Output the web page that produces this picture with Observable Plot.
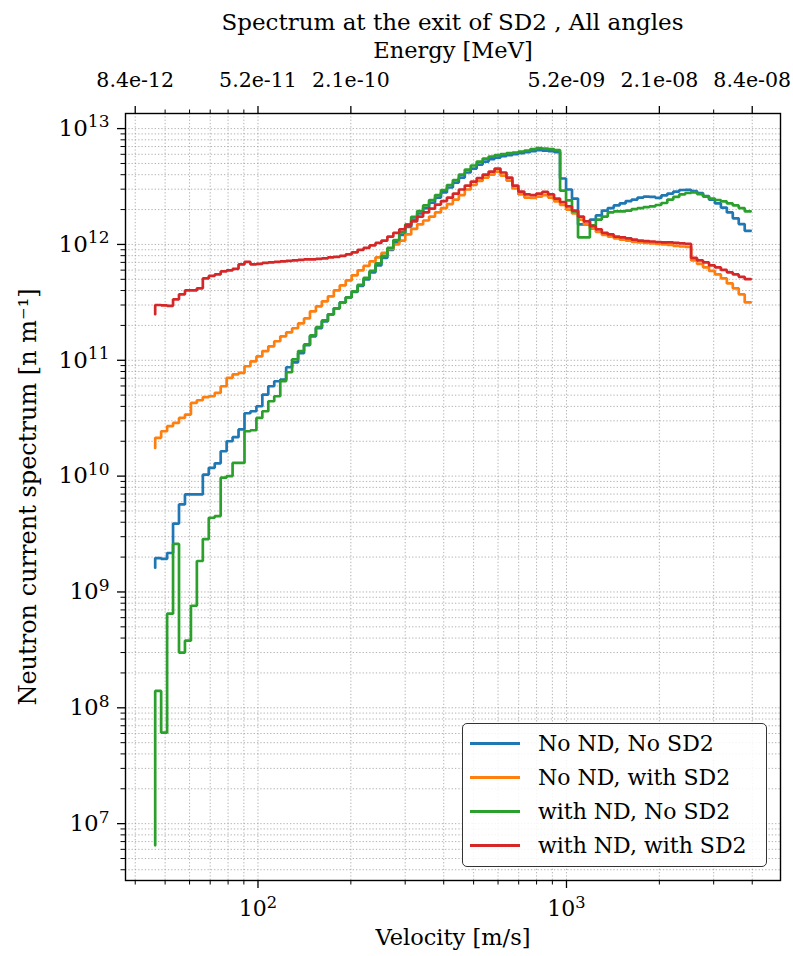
<!DOCTYPE html>
<html><head><meta charset="utf-8">
<script src="https://cdn.jsdelivr.net/npm/d3@7"></script>
<script src="https://cdn.jsdelivr.net/npm/@observablehq/plot@0.6"></script>
<style>
html,body{margin:0;padding:0;background:#fff;}
#wrap{position:relative;width:793px;height:956px;font-family:"DejaVu Serif",serif;color:#000;}
#wrap svg{position:absolute;left:0;top:0;}
#wrap svg text, #wrap svg tspan, #wrap div, #wrap span{font-family:"DejaVu Serif",serif !important;}
#title{position:absolute;left:125px;width:655px;top:11px;text-align:center;font-size:23px;line-height:1;}
#legend{position:absolute;left:462px;top:723px;width:305px;height:144px;border:1.5px solid #333;border-radius:5px;background:rgba(255,255,255,0.85);box-sizing:border-box;padding-top:2px;}
.row{height:34px;display:flex;align-items:center;font-size:22px;white-space:nowrap;}
.sw{width:50px;height:3px;margin-left:7px;margin-right:18px;flex:none;}
</style></head>
<body><div id="wrap"></div>
<script>
// velocity bin edges [m/s] (step-before: value i applies to (v[i-1], v[i]])
const velocity = [46.43, 48.54, 50.75, 53.05, 55.46, 57.98, 60.62, 63.37, 66.25, 69.26,
 72.41, 75.70, 79.14, 82.73, 86.49, 90.42, 94.53, 98.84, 103.3, 108.0,
 112.9, 118.1, 123.4, 129.0, 134.9, 141.0, 147.4, 154.1, 161.1, 168.5,
 176.1, 184.1, 192.5, 201.2, 210.4, 219.9, 229.9, 240.4, 251.3, 262.7,
 274.6, 287.1, 300.2, 313.8, 328.1, 343.0, 358.6, 374.9, 391.9, 409.7,
 428.3, 447.8, 468.1, 489.4, 511.6, 534.9, 559.2, 584.6, 611.2, 639.0,
 668.0, 698.3, 730.1, 763.2, 797.9, 834.2, 872.1, 911.7, 953.2, 996.9,
 1042, 1090, 1139, 1191, 1245, 1302, 1361, 1423, 1487, 1555,
 1626, 1699, 1777, 1857, 1942, 2030, 2122, 2219, 2320, 2425,
 2535, 2650, 2771, 2897, 3028, 3166, 3310, 3460, 3617, 3782,
 3954];

const seriesNames = ["No ND, No SD2", "No ND, with SD2", "with ND, No SD2", "with ND, with SD2"];
const seriesColors = ["#1f77b4", "#ff7f0e", "#2ca02c", "#d62728"];

const noNDnoSD2 = [1.62e9, 1.96e9, 1.93e9, 2.17e9, 3.89e9, 5.7e9, 6.95e9, 6.95e9, 6.95e9, 1.03e10,
 1.18e10, 1.29e10, 1.64e10, 2.0e10, 2.17e10, 2.53e10, 3.49e10, 3.63e10, 4.01e10, 5.06e10,
 5.97e10, 6.59e10, 6.82e10, 8.71e10, 9.61e10, 1.15e11, 1.35e11, 1.61e11, 1.89e11, 2.17e11,
 2.49e11, 2.81e11, 3.16e11, 3.49e11, 3.89e11, 4.39e11, 4.99e11, 5.74e11, 6.59e11, 7.65e11,
 8.97e11, 1.04e12, 1.21e12, 1.42e12, 1.64e12, 1.85e12, 2.06e12, 2.3e12, 2.54e12, 2.81e12,
 3.1e12, 3.42e12, 3.78e12, 4.18e12, 4.52e12, 4.89e12, 5.19e12, 5.46e12, 5.62e12, 5.79e12,
 5.91e12, 6.03e12, 6.15e12, 6.27e12, 6.4e12, 6.53e12, 6.46e12, 6.4e12, 6.27e12, 3.71e12,
 2.98e12, 2.49e12, 1.49e12, 1.49e12, 1.64e12, 1.78e12, 1.96e12, 2.06e12, 2.17e12, 2.26e12,
 2.37e12, 2.44e12, 2.54e12, 2.59e12, 2.57e12, 2.52e12, 2.65e12, 2.75e12, 2.86e12, 2.95e12,
 2.96e12, 2.89e12, 2.78e12, 2.62e12, 2.44e12, 2.26e12, 2.08e12, 1.89e12, 1.68e12, 1.5e12,
 1.31e12];

const noNDwithSD2 = [1.75e10, 2.14e10, 2.44e10, 2.7e10, 2.88e10, 3.18e10, 3.4e10, 4.28e10, 4.52e10, 4.8e10,
 4.89e10, 5.23e10, 5.97e10, 7.04e10, 7.57e10, 7.77e10, 8.88e10, 9.8e10, 1.08e11, 1.2e11,
 1.32e11, 1.46e11, 1.61e11, 1.74e11, 1.89e11, 2.08e11, 2.3e11, 2.64e11, 2.92e11, 3.23e11,
 3.56e11, 4.01e11, 4.43e11, 4.89e11, 5.41e11, 5.97e11, 6.53e11, 7.14e11, 7.73e11, 8.45e11,
 9.15e11, 1.0e12, 1.08e12, 1.22e12, 1.36e12, 1.49e12, 1.61e12, 1.74e12, 1.89e12, 2.06e12,
 2.23e12, 2.44e12, 2.67e12, 2.98e12, 3.26e12, 3.53e12, 3.78e12, 4.01e12, 4.26e12, 3.93e12,
 3.56e12, 3.04e12, 2.7e12, 2.54e12, 2.52e12, 2.59e12, 2.67e12, 2.54e12, 2.35e12, 2.19e12,
 2.0e12, 1.85e12, 1.64e12, 1.49e12, 1.37e12, 1.28e12, 1.21e12, 1.17e12, 1.13e12, 1.1e12,
 1.08e12, 1.05e12, 1.04e12, 1.03e12, 1.02e12, 1.01e12, 1.0e12, 9.9e11, 9.7e11, 9.6e11,
 9.5e11, 7.28e11, 6.79e11, 6.34e11, 5.91e11, 5.51e11, 5.09e11, 4.61e11, 4.18e11, 3.71e11,
 3.16e11];

const withNDnoSD2 = [6.5e6, 1.4e8, 6.1e7, 6.5e8, 2.6e9, 3.0e8, 3.8e8, 7.6e8, 1.85e9, 2.86e9,
 4.37e9, 4.52e9, 9.7e9, 1.0e10, 1.3e10, 1.3e10, 2.44e10, 2.49e10, 3.18e10, 3.63e10,
 4.43e10, 4.89e10, 6.59e10, 7.88e10, 1.02e11, 1.2e11, 1.37e11, 1.64e11, 1.93e11, 2.21e11,
 2.49e11, 2.81e11, 3.16e11, 3.49e11, 3.93e11, 4.48e11, 5.14e11, 5.91e11, 6.86e11, 7.96e11,
 9.33e11, 1.09e12, 1.27e12, 1.49e12, 1.73e12, 1.94e12, 2.17e12, 2.42e12, 2.67e12, 2.95e12,
 3.26e12, 3.6e12, 4.01e12, 4.43e12, 4.8e12, 5.19e12, 5.51e12, 5.74e12, 5.91e12, 6.03e12,
 6.15e12, 6.21e12, 6.34e12, 6.46e12, 6.66e12, 6.79e12, 6.72e12, 6.66e12, 6.53e12, 2.92e12,
 2.4e12, 1.93e12, 1.15e12, 1.15e12, 1.46e12, 1.64e12, 1.74e12, 1.89e12, 1.93e12, 1.93e12,
 1.96e12, 2.02e12, 2.06e12, 2.1e12, 2.13e12, 2.19e12, 2.28e12, 2.44e12, 2.57e12, 2.7e12,
 2.78e12, 2.81e12, 2.72e12, 2.59e12, 2.49e12, 2.42e12, 2.35e12, 2.26e12, 2.17e12, 2.06e12,
 1.93e12];

const withNDwithSD2 = [2.5e11, 3.0e11, 2.98e11, 2.95e11, 3.36e11, 3.71e11, 4.01e11, 4.01e11, 4.18e11, 5.09e11,
 5.35e11, 5.51e11, 5.85e11, 5.97e11, 6.15e11, 6.72e11, 7.07e11, 6.72e11, 6.79e11, 6.93e11,
 7.0e11, 7.07e11, 7.14e11, 7.21e11, 7.28e11, 7.35e11, 7.42e11, 7.42e11, 7.5e11, 7.57e11,
 7.73e11, 7.8e11, 7.96e11, 8.2e11, 8.53e11, 8.97e11, 9.33e11, 9.8e11, 1.03e12, 1.08e12,
 1.17e12, 1.26e12, 1.35e12, 1.46e12, 1.58e12, 1.74e12, 1.89e12, 2.04e12, 2.21e12, 2.37e12,
 2.54e12, 2.75e12, 2.98e12, 3.22e12, 3.49e12, 3.74e12, 4.01e12, 4.26e12, 4.52e12, 4.18e12,
 3.78e12, 3.22e12, 2.86e12, 2.7e12, 2.67e12, 2.75e12, 2.84e12, 2.7e12, 2.49e12, 2.32e12,
 2.13e12, 1.96e12, 1.74e12, 1.58e12, 1.44e12, 1.35e12, 1.26e12, 1.22e12, 1.17e12, 1.15e12,
 1.13e12, 1.1e12, 1.08e12, 1.07e12, 1.06e12, 1.05e12, 1.04e12, 1.04e12, 1.03e12, 1.02e12,
 1.01e12, 7.65e11, 7.28e11, 7.0e11, 6.59e11, 6.34e11, 6.03e11, 5.74e11, 5.51e11, 5.25e11,
 5.01e11];

// axes
const xMajorTicks = [100, 1000];
const xMinorTicks = [40, 50, 60, 70, 80, 90, 200, 300, 400, 500, 600, 700, 800, 900, 2000, 3000, 4000];
const energyTickVelocity = [40, 100, 200, 1000, 2000, 4000];
const energyTickLabels = ["8.4e-12", "5.2e-11", "2.1e-10", "5.2e-09", "2.1e-08", "8.4e-08"];
const topMinorTicks = [50, 60, 70, 80, 90, 300, 400, 500, 600, 700, 800, 900, 3000];
const yMajorTicks = [1e7, 1e8, 1e9, 1e10, 1e11, 1e12, 1e13];
const yMinorTicks = [];
for (let k = 6; k <= 12; k++) for (let m = 2; m <= 9; m++) {
  const t = m * Math.pow(10, k);
  if (t > 3.23e6 && t < 1.35e13) yMinorTicks.push(t);
}

const allSeries = [noNDnoSD2, noNDwithSD2, withNDnoSD2, withNDwithSD2];
const lineMarks = allSeries.map((vals, s) =>
  Plot.line(velocity.map((v, i) => ({velocity: v, value: vals[i], series: seriesNames[s]})),
    {x: "velocity", y: "value", curve: "step-before", stroke: seriesColors[s], strokeWidth: 2.7, strokeLinejoin: "miter"}));

const gridStyle = {stroke: "#9a9a9a", strokeOpacity: 0.85, strokeDasharray: "1.3,2", strokeWidth: 0.9};
const pow = d => "10^" + Math.round(Math.log10(d));

const chart = Plot.plot({
  width: 793, height: 956,
  marginLeft: 125, marginRight: 13, marginTop: 113, marginBottom: 76,
  style: {fontFamily: "DejaVu Serif", background: "transparent", color: "#000", overflow: "visible"},
  x: {type: "log", domain: [37.2, 4940]},
  y: {type: "log", domain: [3.23e6, 1.35e13]},
  marks: [
    Plot.gridX(xMinorTicks.concat(xMajorTicks), gridStyle),
    Plot.gridY(yMinorTicks.concat(yMajorTicks), gridStyle),
    ...lineMarks,
    Plot.frame({stroke: "#000", strokeWidth: 1.4}),
    Plot.axisX(xMajorTicks, {anchor: "bottom", tickSize: 8, tickPadding: 12, tickFormat: pow, fontSize: 22, label: null, strokeWidth: 1.3}),
    Plot.axisX(xMinorTicks, {anchor: "bottom", tickSize: 4.5, tickFormat: () => "", label: null, strokeWidth: 1}),
    Plot.axisX([], {anchor: "bottom", label: "Velocity [m/s]", labelAnchor: "center", labelOffset: 64, labelArrow: "none", fontSize: 22.5}),
    Plot.axisX(energyTickVelocity, {anchor: "top", tickSize: 8, tickPadding: 19, tickFormat: d => energyTickLabels[energyTickVelocity.indexOf(d)], fontSize: 20.5, label: null, strokeWidth: 1.3}),
    Plot.axisX(topMinorTicks, {anchor: "top", tickSize: 4.5, tickFormat: () => "", label: null, strokeWidth: 1}),
    Plot.axisX([], {anchor: "top", label: "Energy [MeV]", labelAnchor: "center", labelOffset: 71, labelArrow: "none", fontSize: 22.5}),
    Plot.axisY(yMajorTicks, {anchor: "left", tickSize: 8, tickPadding: 8, tickFormat: pow, fontSize: 23, label: null, strokeWidth: 1.3}),
    Plot.axisY(yMinorTicks, {anchor: "left", tickSize: 4.5, tickFormat: () => "", label: null, strokeWidth: 1}),
    Plot.axisY([], {anchor: "left", label: "Neutron current spectrum [n m⁻¹]", labelAnchor: "center", labelOffset: 107, labelArrow: "none", fontSize: 24})
  ]
});

// render "10^k" tick labels with a real superscript
d3.select(chart).selectAll("text").each(function () {
  const m = /^10\^(\d+)$/.exec(this.textContent);
  if (m) {
    const el = d3.select(this);
    el.text(null);
    el.append("tspan").text("10");
    el.append("tspan").attr("dy", "-0.5em").attr("font-size", "0.74em").text(m[1]);
  }
});

const wrap = document.getElementById("wrap");
wrap.appendChild(chart);

const title = document.createElement("div");
title.id = "title";
title.textContent = "Spectrum at the exit of SD2 , All angles";
wrap.appendChild(title);

const legend = document.createElement("div");
legend.id = "legend";
seriesNames.forEach((name, i) => {
  const row = document.createElement("div");
  row.className = "row";
  const sw = document.createElement("span");
  sw.className = "sw";
  sw.style.background = seriesColors[i];
  const label = document.createElement("span");
  label.textContent = name;
  row.appendChild(sw);
  row.appendChild(label);
  legend.appendChild(row);
});
wrap.appendChild(legend);
</script>
</body></html>
